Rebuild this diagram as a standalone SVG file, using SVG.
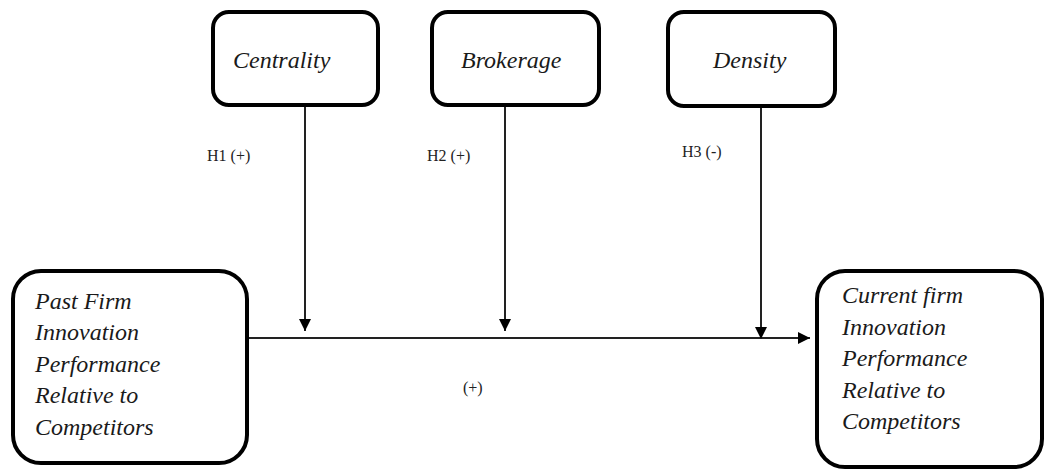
<svg xmlns="http://www.w3.org/2000/svg" width="1045" height="469" viewBox="0 0 1045 469">
<style>
.box{fill:#fff;stroke:#000;stroke-width:4}
.t{font-family:"Liberation Serif","Times New Roman",serif;font-style:italic;font-size:24px;fill:#1a1a1a}
.l{font-family:"Liberation Serif","Times New Roman",serif;font-size:16px;fill:#222}
.c{stroke:#222;stroke-width:2;fill:none}
</style>
<defs>
<marker id="ah" markerWidth="12" markerHeight="12" refX="12" refY="6" orient="auto" markerUnits="userSpaceOnUse">
<path d="M0,0 L12,6 L0,12 Z" fill="#000"/>
</marker>
</defs>
<g id="connectors">
<line class="c" x1="248" y1="338" x2="810" y2="338" marker-end="url(#ah)"/>
<line class="c" x1="305" y1="106" x2="305" y2="331" marker-end="url(#ah)"/>
<line class="c" x1="505" y1="106" x2="505" y2="331" marker-end="url(#ah)"/>
<line class="c" x1="761" y1="107" x2="761" y2="339" marker-end="url(#ah)"/>
</g>
<g id="centrality">
<rect class="box" x="213" y="12" width="165" height="93" rx="16"/>
<text class="t" x="233" y="68">Centrality</text>
</g>
<g id="brokerage">
<rect class="box" x="432" y="12" width="167" height="93" rx="16"/>
<text class="t" x="461" y="68">Brokerage</text>
</g>
<g id="density">
<rect class="box" x="668" y="12" width="167" height="94" rx="16"/>
<text class="t" x="713" y="68">Density</text>
</g>
<g id="past">
<rect class="box" x="13" y="271" width="234" height="192" rx="28"/>
<text class="t" x="35" y="309">Past Firm</text>
<text class="t" x="35" y="340">Innovation</text>
<text class="t" x="35" y="372">Performance</text>
<text class="t" x="35" y="403">Relative to</text>
<text class="t" x="35" y="435">Competitors</text>
</g>
<g id="current">
<rect class="box" x="817" y="271" width="225" height="196" rx="28"/>
<text class="t" x="842" y="303">Current firm</text>
<text class="t" x="842" y="335">Innovation</text>
<text class="t" x="842" y="366">Performance</text>
<text class="t" x="842" y="398">Relative to</text>
<text class="t" x="842" y="429">Competitors</text>
</g>
<g id="labels">
<text class="l" x="207" y="161">H1 (+)</text>
<text class="l" x="427" y="161">H2 (+)</text>
<text class="l" x="682" y="157">H3 (-)</text>
<text class="l" x="463" y="393">(+)</text>
</g>
</svg>
